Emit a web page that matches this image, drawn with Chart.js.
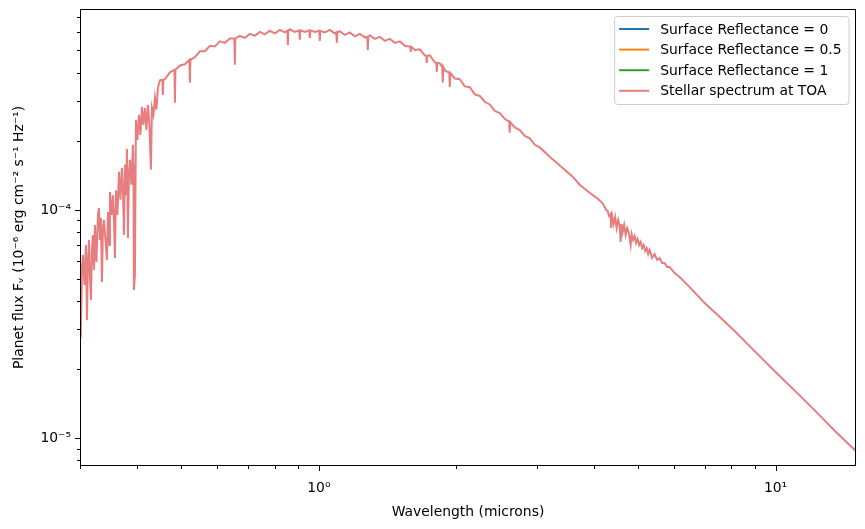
<!DOCTYPE html>
<html>
<head>
<meta charset="utf-8">
<script src="https://cdn.jsdelivr.net/npm/chart.js@4.4.0/dist/chart.umd.min.js"></script>
<style>
  body { margin: 0; background: #fff; }
</style>
</head>
<body>
<canvas id="spectrum" width="865" height="529"></canvas>
<script>
// stellar spectrum, in three pieces
// UV: dense absorption forest
const uvWavelength = [
  0.300, 0.3007, 0.3015, 0.3030, 0.3045, 0.3068, 0.3091, 0.3107, 0.3123, 0.3139,
  0.3154, 0.3170, 0.3186, 0.3202, 0.3219, 0.3235, 0.3259, 0.3284, 0.3301, 0.3317,
  0.3334, 0.3351, 0.3368, 0.3385, 0.3410, 0.3436, 0.3454, 0.3480, 0.3489, 0.3515,
  0.3542, 0.3560, 0.3578, 0.3596, 0.3623, 0.3651, 0.3678, 0.3706, 0.3725, 0.3744,
  0.3763, 0.3782, 0.3801, 0.3820, 0.3839, 0.3859, 0.3888, 0.3917, 0.3927, 0.3937,
  0.3957, 0.3977, 0.4007, 0.4038, 0.4068, 0.4099, 0.4130, 0.4162, 0.4193, 0.4225,
  0.4257, 0.4289, 0.4311, 0.4344, 0.4377, 0.4410, 0.4443
];
const uvFlux = [
  5.86e-5, 4.03e-5, 2.75e-5, 5.46e-5, 6.35e-5, 4.69e-5, 7.02e-5, 3.29e-5, 5.91e-5, 7.39e-5,
  5.19e-5, 4.03e-5, 6.68e-5, 7.77e-5, 5.46e-5, 8.59e-5, 5.91e-5, 9.51e-5, 1.02e-4, 7.39e-5,
  9.22e-5, 4.83e-5, 8.34e-5, 9.04e-5, 7.39e-5, 6.04e-5, 9.80e-5, 7.02e-5, 1.20e-4, 9.51e-5,
  1.16e-4, 9.04e-5, 6.16e-5, 1.22e-4, 9.51e-5, 1.47e-4, 1.11e-4, 1.53e-4, 1.22e-4, 7.77e-5,
  1.58e-4, 1.16e-4, 1.85e-4, 7.54e-5, 1.42e-4, 1.66e-4, 1.29e-4, 1.93e-4, 1.58e-4, 4.46e-5,
  5.19e-5, 2.48e-4, 2.03e-4, 2.61e-4, 2.13e-4, 2.83e-4, 2.36e-4, 2.80e-4, 2.24e-4, 2.89e-4,
  2.36e-4, 1.50e-4, 2.80e-4, 2.61e-4, 3.10e-4, 2.75e-4, 3.43e-4
];

// visible / near IR: peak and turnover with narrow lines
const visWavelength = [
  0.4488, 0.4545, 0.4556, 0.4567, 0.4603, 0.4720, 0.4829, 0.4841, 0.4853, 0.4964,
  0.5091, 0.5208, 0.5221, 0.5234, 0.5354, 0.5490, 0.5631, 0.5774, 0.5921, 0.6073,
  0.6227, 0.6386, 0.6533, 0.6549, 0.6565, 0.6716, 0.6888, 0.7063, 0.7244, 0.7428,
  0.7618, 0.7812, 0.8012, 0.8216, 0.8426, 0.8533, 0.8554, 0.8575, 0.8640, 0.8861,
  0.9064, 0.9087, 0.9110, 0.9319, 0.9533, 0.9557, 0.9581, 0.9800, 1.0025, 1.0050,
  1.0075, 1.0307, 1.0570, 1.0840, 1.0923, 1.0950, 1.0977, 1.1116, 1.1400, 1.1691,
  1.1989, 1.2296, 1.2609, 1.2770, 1.2802, 1.2834, 1.2931, 1.3261, 1.3600, 1.3947,
  1.4303, 1.4668, 1.5042, 1.5426, 1.5857, 1.5897, 1.5937, 1.6224, 1.6638, 1.7062,
  1.7188, 1.7231, 1.7274, 1.7498, 1.7944, 1.8081, 1.8126, 1.8171, 1.8402, 1.8632,
  1.8679, 1.8726, 1.8872, 1.9305, 1.9353, 1.9401, 1.9847, 2.0354, 2.0873, 2.1406,
  2.1952, 2.2513, 2.3087, 2.3676, 2.4280, 2.4900, 2.5535, 2.6113, 2.6178, 2.6243,
  2.6855, 2.7540, 2.8243, 2.8964, 2.9703, 3.0461, 3.202, 3.317, 3.453, 3.596,
  3.725, 3.917, 4.058, 4.183
];
const visFlux = [
  3.70e-4, 3.72e-4, 3.19e-4, 3.72e-4, 3.74e-4, 4.01e-4, 4.11e-4, 2.95e-4, 4.11e-4, 4.30e-4,
  4.35e-4, 4.55e-4, 3.61e-4, 4.55e-4, 4.67e-4, 4.96e-4, 4.96e-4, 5.24e-4, 5.21e-4, 5.48e-4,
  5.40e-4, 5.65e-4, 5.65e-4, 4.33e-4, 5.65e-4, 5.80e-4, 5.68e-4, 5.91e-4, 5.80e-4, 6.03e-4,
  5.88e-4, 6.10e-4, 5.94e-4, 6.16e-4, 6.00e-4, 6.10e-4, 5.29e-4, 6.10e-4, 6.19e-4, 6.03e-4,
  6.13e-4, 5.57e-4, 6.13e-4, 6.03e-4, 6.13e-4, 5.68e-4, 6.13e-4, 6.03e-4, 6.10e-4, 5.51e-4,
  6.10e-4, 6.00e-4, 6.16e-4, 5.94e-4, 6.00e-4, 5.40e-4, 6.00e-4, 6.07e-4, 5.85e-4, 6.00e-4,
  5.77e-4, 5.91e-4, 5.71e-4, 5.74e-4, 5.03e-4, 5.74e-4, 5.83e-4, 5.62e-4, 5.74e-4, 5.51e-4,
  5.62e-4, 5.40e-4, 5.48e-4, 5.24e-4, 5.19e-4, 4.93e-4, 5.19e-4, 5.03e-4, 5.06e-4, 4.76e-4,
  4.74e-4, 4.41e-4, 4.74e-4, 4.76e-4, 4.44e-4, 4.41e-4, 4.03e-4, 4.41e-4, 4.39e-4, 4.24e-4,
  3.61e-4, 4.24e-4, 4.09e-4, 3.99e-4, 3.46e-4, 3.99e-4, 3.77e-4, 3.74e-4, 3.48e-4, 3.45e-4,
  3.21e-4, 3.16e-4, 2.98e-4, 2.90e-4, 2.72e-4, 2.66e-4, 2.51e-4, 2.43e-4, 2.18e-4, 2.43e-4,
  2.30e-4, 2.24e-4, 2.11e-4, 2.06e-4, 1.93e-4, 1.88e-4, 1.71e-4, 1.61e-4, 1.50e-4, 1.40e-4,
  1.29e-4, 1.19e-4, 1.13e-4, 1.07e-4
];

// IR: CO band around 4.5 um, then Rayleigh-Jeans tail
const irWavelength = [
  4.2249, 4.2570, 4.2893, 4.3220, 4.3546, 4.3656, 4.3877, 4.4209, 4.4546, 4.4883,
  4.5223, 4.5565, 4.5796, 4.6028, 4.6261, 4.6613, 4.6965, 4.7321, 4.7681, 4.8163,
  4.8406, 4.8773, 4.9144, 4.9517, 4.9892, 5.0270, 5.0653, 5.1037, 5.1423, 5.1815,
  5.2206, 5.2603, 5.3003, 5.3674, 5.4354, 5.5043, 5.5740, 5.6447, 5.7162, 5.7887,
  5.8621, 6.0116, 6.1650, 6.4836, 6.992, 7.430, 8.134, 8.774, 10.05, 11.29,
  12.29, 13.46, 15.0
];
const irFlux = [
  1.031e-4, 1.000e-4, 9.90e-5, 9.41e-5, 9.60e-5, 8.34e-5, 9.41e-5, 8.68e-5, 9.32e-5, 8.34e-5,
  9.04e-5, 8.51e-5, 7.24e-5, 8.68e-5, 8.01e-5, 8.59e-5, 7.77e-5, 8.34e-5, 8.01e-5, 7.02e-5,
  7.85e-5, 7.39e-5, 7.69e-5, 7.17e-5, 7.46e-5, 7.02e-5, 7.24e-5, 6.81e-5, 7.02e-5, 6.61e-5,
  6.81e-5, 6.41e-5, 6.68e-5, 6.16e-5, 6.41e-5, 6.04e-5, 6.16e-5, 5.86e-5, 5.86e-5, 5.62e-5,
  5.62e-5, 5.29e-5, 5.08e-5, 4.59e-5, 3.91e-5, 3.50e-5, 2.95e-5, 2.53e-5, 1.93e-5, 1.54e-5,
  1.30e-5, 1.08e-5, 8.77e-6
];

// the planet curves don't show up inside the plotted range
const fluxRefl0 = [];
const fluxRefl05 = [];
const fluxRefl1 = [];

const seriesLabels = ['Surface Reflectance = 0', 'Surface Reflectance = 0.5',
                      'Surface Reflectance = 1', 'Stellar spectrum at TOA'];
const seriesColors = ['#1f77b4', '#ff7f0e', '#2ca02c', 'rgba(214,39,40,0.6)'];

// axis ticks
const xMajorTicks = [1, 10];
const xMajorLabels = ['10\u2070', '10\u00b9'];
const xMinorTicks = [0.3, 0.4, 0.5, 0.6, 0.7, 0.8, 0.9, 2, 3, 4, 5, 6, 7, 8, 9];
const yMajorTicks = [1e-5, 1e-4];
const yMajorLabels = ['10\u207b\u2075', '10\u207b\u2074'];
const yMinorTicks = [8e-6, 9e-6, 2e-5, 3e-5, 4e-5, 5e-5, 6e-5, 7e-5, 8e-5, 9e-5,
                     2e-4, 3e-4, 4e-4, 5e-4, 6e-4, 7e-4];

const wavelength = uvWavelength.concat(visWavelength, irWavelength);
const stellarFlux = uvFlux.concat(visFlux, irFlux);

function toPoints(xs, ys) {
    return ys.map((y, i) => ({ x: xs[i], y: y }));
}

// matplotlib style frame + major/minor tick marks
const axesFrame = {
    id: 'axesFrame',
    afterDraw(chart) {
        const { ctx, chartArea: a, scales } = chart;
        ctx.save();
        ctx.strokeStyle = '#000';
        ctx.lineWidth = 1;
        ctx.strokeRect(a.left + 0.5, a.top + 0.5, a.right - a.left - 1, a.bottom - a.top - 1);
        scales.x.ticks.forEach(t => {
            const len = xMajorTicks.includes(t.value) ? 5 : 3;
            const p = Math.round(scales.x.getPixelForValue(t.value)) + 0.5;
            ctx.beginPath();
            ctx.moveTo(p, a.bottom);
            ctx.lineTo(p, a.bottom + len);
            ctx.stroke();
        });
        scales.y.ticks.forEach(t => {
            const len = yMajorTicks.includes(t.value) ? 5 : 3;
            const p = Math.round(scales.y.getPixelForValue(t.value)) + 0.5;
            ctx.beginPath();
            ctx.moveTo(a.left, p);
            ctx.lineTo(a.left - len, p);
            ctx.stroke();
        });
        ctx.restore();
    }
};

// legend box in the upper right corner
const boxLegend = {
    id: 'boxLegend',
    afterDraw(chart) {
        const { ctx, chartArea: a } = chart;
        const ds = chart.data.datasets;
        ctx.save();
        ctx.font = '13.9px "DejaVu Sans"';
        const textW = Math.max(...ds.map(d => ctx.measureText(d.label).width));
        const rowH = 20.6;
        const w = 5 + 30 + 11 + textW + 7;
        const h = 88;
        const x0 = a.right - 7.5 - w;
        const y0 = a.top + 7;
        ctx.beginPath();
        ctx.roundRect(x0 + 0.5, y0 + 0.5, w, h, 3);
        ctx.fillStyle = 'rgba(255,255,255,0.8)';
        ctx.fill();
        ctx.strokeStyle = '#cccccc';
        ctx.lineWidth = 1;
        ctx.stroke();
        ds.forEach((d, i) => {
            const cy = y0 + 13 + i * rowH;
            ctx.beginPath();
            ctx.strokeStyle = d.borderColor;
            ctx.lineWidth = 2;
            ctx.moveTo(x0 + 5, cy);
            ctx.lineTo(x0 + 35, cy);
            ctx.stroke();
            ctx.fillStyle = '#000';
            ctx.textBaseline = 'middle';
            ctx.fillText(d.label, x0 + 46, cy + 1);
        });
        ctx.restore();
    }
};

Chart.defaults.font.family = '"DejaVu Sans"';
Chart.defaults.font.size = 13.9;
Chart.defaults.color = '#000';

const ctx = document.getElementById('spectrum').getContext('2d');
const config = {
    type: 'line',
    data: {
        datasets: [
            { label: seriesLabels[0], data: toPoints(wavelength, fluxRefl0), borderColor: seriesColors[0] },
            { label: seriesLabels[1], data: toPoints(wavelength, fluxRefl05), borderColor: seriesColors[1] },
            { label: seriesLabels[2], data: toPoints(wavelength, fluxRefl1), borderColor: seriesColors[2] },
            { label: seriesLabels[3], data: toPoints(wavelength, stellarFlux), borderColor: seriesColors[3] }
        ]
    },
    options: {
        responsive: false,
        animation: false,
        devicePixelRatio: 1,
        layout: { padding: { left: 0, top: 9, right: 9, bottom: 0 } },
        elements: {
            line: { borderWidth: 2, tension: 0, fill: false },
            point: { radius: 0 }
        },
        plugins: {
            legend: { display: false },
            tooltip: { enabled: false }
        },
        scales: {
            x: {
                type: 'logarithmic',
                min: 0.3,
                max: 15,
                grid: { display: false, drawTicks: false },
                border: { display: false },
                afterBuildTicks: scale => {
                    scale.ticks = xMinorTicks.concat(xMajorTicks).sort((a, b) => a - b).map(v => ({ value: v }));
                },
                afterFit: scale => {
                    scale.height = 63;
                    scale.paddingLeft = 0;
                    scale.paddingRight = 0;
                },
                ticks: {
                    autoSkip: false,
                    maxRotation: 0,
                    padding: 14,
                    callback: v => {
                        const i = xMajorTicks.indexOf(v);
                        return i >= 0 ? xMajorLabels[i] : '';
                    }
                },
                title: {
                    display: true,
                    text: 'Wavelength (microns)',
                    padding: { top: 0, bottom: 8.5 }
                }
            },
            y: {
                type: 'logarithmic',
                min: 7.55e-6,
                max: 7.6e-4,
                grid: { display: false, drawTicks: false },
                border: { display: false },
                afterBuildTicks: scale => {
                    scale.ticks = yMinorTicks.concat(yMajorTicks).sort((a, b) => a - b).map(v => ({ value: v }));
                },
                afterFit: scale => {
                    scale.width = 80;
                    scale.paddingTop = 0;
                    scale.paddingBottom = 0;
                },
                ticks: {
                    autoSkip: false,
                    padding: 9,
                    callback: v => {
                        const i = yMajorTicks.indexOf(v);
                        return i >= 0 ? yMajorLabels[i] : '';
                    }
                },
                title: {
                    display: true,
                    text: 'Planet flux F\u1d65 (10\u207b\u2076 erg cm\u207b\u00b2 s\u207b\u00b9 Hz\u207b\u00b9)',
                    padding: { top: 11.5, bottom: 0 }
                }
            }
        }
    },
    plugins: [axesFrame, boxLegend]
};

const spectrumChart = new Chart(ctx, config);
</script>
</body>
</html>
